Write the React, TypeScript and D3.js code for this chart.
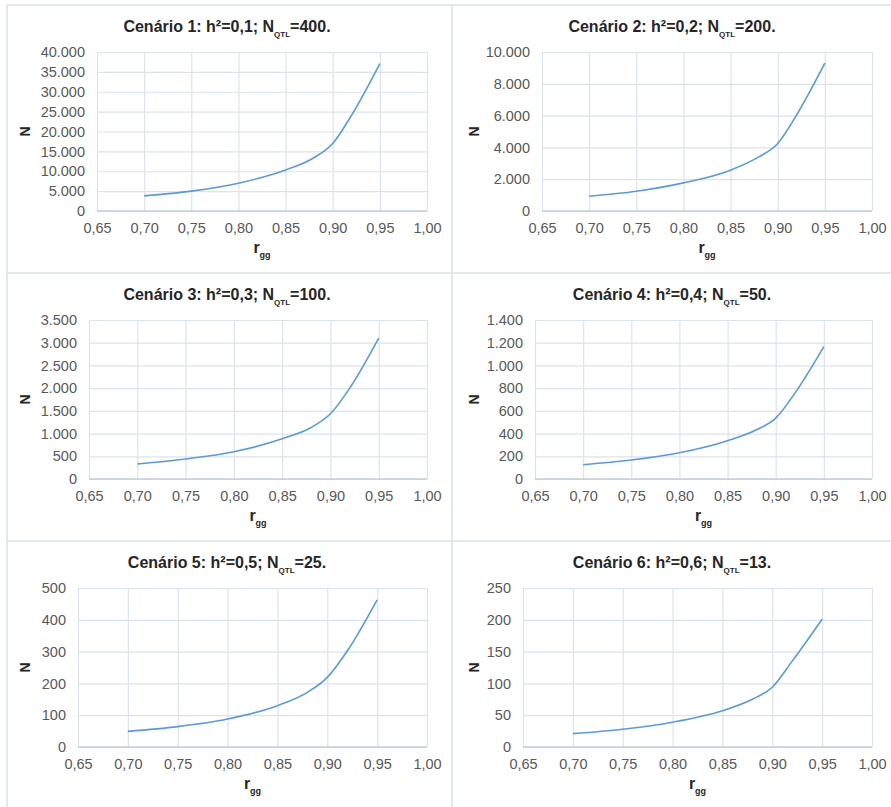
import { useEffect, useRef } from "react";
import * as d3 from "d3";

// r_gg values
const rgg = [0.7, 0.75, 0.8, 0.85, 0.88, 0.9, 0.92, 0.95];

// N for each scenario
const n1 = [3800, 5000, 7000, 10300, 13400, 17000, 24100, 37100];
const n2 = [930, 1240, 1770, 2570, 3400, 4250, 6040, 9300];
const n3 = [330, 440, 600, 886, 1134, 1435, 2000, 3100];
const n4 = [126, 167, 231, 337, 433, 536, 756, 1165];
const n5 = [49, 64, 88, 130, 172, 219, 302, 463];
const n6 = [21, 28, 39, 57, 75, 94, 135, 201];

const scenarios = ["1", "2", "3", "4", "5", "6"];
const h2 = ["0,1", "0,2", "0,3", "0,4", "0,5", "0,6"];
const nqtl = ["400", "200", "100", "50", "25", "13"];
const yMax = [40000, 10000, 3500, 1400, 500, 250];
const yStep = [5000, 2000, 500, 200, 100, 50];
const xTicks = [0.65, 0.7, 0.75, 0.8, 0.85, 0.9, 0.95, 1.0];

const series = [n1, n2, n3, n4, n5, n6];

export default function App() {
  const ref = useRef<SVGSVGElement>(null);

  // layout
  const W = 891;
  const H = 807;
  const colX = [7, 452];
  const rowY = [5, 273, 541];
  const leftMargin = [90, 90, 82, 83, 71, 71];
  const font = "'Liberation Sans', Arial, sans-serif";
  const gridColor = "#dde3ea";
  const borderColor = "#dae0e7";

  useEffect(() => {
    const svg = d3.select(ref.current);
    svg.selectAll("*").remove();

    const loc = d3.formatLocale({ decimal: ",", thousands: ".", grouping: [3], currency: ["", ""] });
    const fmtY = loc.format(",d");
    const fmtX = loc.format(".2f");

    svg.append("rect").attr("width", W).attr("height", H).attr("fill", "#fff");

    // panel borders
    const borders = svg.append("g").attr("stroke", borderColor).attr("stroke-width", 1.5);
    borders.append("line").attr("x1", 7).attr("x2", W).attr("y1", 5).attr("y2", 5);
    borders.append("line").attr("x1", 7).attr("x2", W).attr("y1", 273).attr("y2", 273);
    borders.append("line").attr("x1", 7).attr("x2", W).attr("y1", 541).attr("y2", 541);
    borders.append("line").attr("x1", 7).attr("x2", 7).attr("y1", 5).attr("y2", H);
    borders.append("line").attr("x1", 452).attr("x2", 452).attr("y1", 5).attr("y2", H);

    series.forEach((vals, i) => {
      const col = i % 2;
      const row = Math.floor(i / 2);
      const px = colX[col];
      const py = rowY[row];
      const left = px + leftMargin[i];
      const right = px + 420;
      const top = py + 47;
      const bottom = py + 206;

      const x = d3.scaleLinear().domain([0.65, 1.0]).range([left, right]);
      const y = d3.scaleLinear().domain([0, yMax[i]]).range([bottom, top]);
      const g = svg.append("g");

      const yTicks = d3.range(0, yMax[i] + yStep[i] / 2, yStep[i]);

      // y grid + labels
      g.append("g")
        .attr("transform", `translate(${left},0)`)
        .call(d3.axisLeft(y).tickValues(yTicks).tickSize(-(right - left)).tickPadding(12).tickFormat((d) => fmtY(d as number)))
        .call((a) => a.select(".domain").remove())
        .call((a) => a.selectAll(".tick line").attr("stroke", gridColor).attr("stroke-width", 1.2))
        .call((a) =>
          a.selectAll(".tick text").attr("fill", "#595959").attr("font-size", 14.5).attr("font-family", font)
        );

      // x grid + labels
      g.append("g")
        .attr("transform", `translate(0,${bottom})`)
        .call(d3.axisBottom(x).tickValues(xTicks).tickSize(-(bottom - top)).tickPadding(12).tickFormat((d) => fmtX(d as number)))
        .call((a) => a.select(".domain").remove())
        .call((a) => a.selectAll(".tick line").attr("stroke", gridColor).attr("stroke-width", 1.2))
        .call((a) =>
          a.selectAll(".tick text").attr("fill", "#595959").attr("font-size", 14.5).attr("font-family", font)
        );

      // bottom axis line
      g.append("line")
        .attr("x1", left)
        .attr("x2", right)
        .attr("y1", bottom)
        .attr("y2", bottom)
        .attr("stroke", "#c5cdd6")
        .attr("stroke-width", 1.3);

      // curve
      const line = d3
        .line<number>()
        .x((d, j) => x(rgg[j]))
        .y((d) => y(d))
        .curve(d3.curveMonotoneX);
      g.append("path")
        .attr("d", line(vals))
        .attr("fill", "none")
        .attr("stroke", "#5b9bd5")
        .attr("stroke-width", 1.6);

      // title
      const title = g
        .append("text")
        .attr("x", px + 220)
        .attr("y", py + 27)
        .attr("text-anchor", "middle")
        .attr("font-family", font)
        .attr("font-weight", "bold")
        .attr("font-size", 16)
        .attr("fill", "#262626");
      title.append("tspan").text(`Cenário ${scenarios[i]}: h²=${h2[i]}; N`);
      title.append("tspan").attr("font-size", 8).attr("dy", 5).text("QTL");
      title.append("tspan").attr("dy", -5).text(`=${nqtl[i]}.`);

      // y label
      g.append("text")
        .attr("transform", `translate(${px + (col === 0 ? 18 : 22)},${(top + bottom) / 2}) rotate(-90)`)
        .attr("text-anchor", "middle")
        .attr("dominant-baseline", "central")
        .attr("font-family", font)
        .attr("font-weight", "bold")
        .attr("font-size", 14)
        .attr("fill", "#262626")
        .text("N");

      // x label
      const xl = g
        .append("text")
        .attr("x", (left + right) / 2)
        .attr("y", py + 248)
        .attr("text-anchor", "middle")
        .attr("font-family", font)
        .attr("font-weight", "bold")
        .attr("font-size", 16)
        .attr("fill", "#262626");
      xl.append("tspan").text("r");
      xl.append("tspan").attr("font-size", 9).attr("dy", 5).text("gg");
    });
  }, []);

  return (
    <svg
      ref={ref}
      width={W}
      height={H}
      style={{ position: "absolute", left: 0, top: 0, display: "block" }}
    />
  );
}
